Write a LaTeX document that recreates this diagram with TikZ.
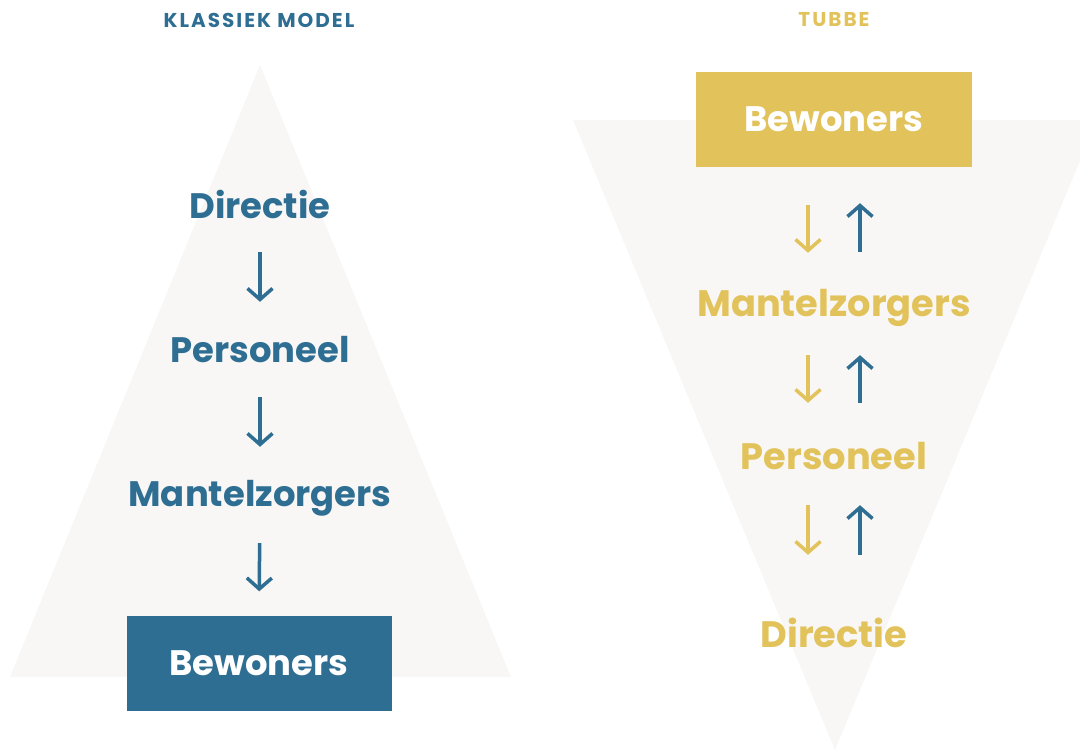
\documentclass[tikz,border=0pt]{standalone}
\usepackage{fontspec}
\setmainfont{Poppins}
\newfontfamily\headfont{Poppins}[LetterSpace=10]
\usepackage{tikz}
\usetikzlibrary{arrows.meta}
\definecolor{klassiekblue}{RGB}{47,110,147}
\definecolor{tubbeyellow}{RGB}{226,194,90}
\definecolor{pyramidgray}{RGB}{248,247,245}

\begin{document}
\begin{tikzpicture}[
    x=1pt, y=-1pt,
    level/.style={anchor=base, inner sep=0pt, text height=25pt, text depth=0pt, font=\fontsize{35.4}{40}\selectfont\bfseries},
    levelR/.style={level, text height=26pt, font=\fontsize{36.8}{42}\selectfont\bfseries},
    topbox/.style={minimum width=#1, inner sep=0pt, text height=25pt, text depth=-5pt, font=\fontsize{35.4}{40}\selectfont\bfseries, text=white},
    header/.style={font=\headfont\fontsize{20}{24}\selectfont\bfseries},
    flow/.style={line width=3.5pt, -{Straight Barb[length=11pt, width=25pt]}}
]
    \clip (0,0) rectangle (1080,751);
    % Pyramids
    \fill[pyramidgray] (260,65) -- (511,677) -- (10,677) -- cycle;
    \fill[pyramidgray] (573,120) -- (1097,120) -- (835,750) -- cycle;

    % Headers
    \node[header, text=klassiekblue] (hklassiek) at (259,20) {KLASSIEK MODEL};
    \node[header, text=tubbeyellow] (htubbe) at (834,20) {TUBBE};

    % Klassiek model
    \node[level, text=klassiekblue] (directie) at (260,219) {Directie};
    \node[level, text=klassiekblue] (personeel) at (260,363) {Personeel};
    \node[level, text=klassiekblue] (mantelzorgers) at (260,507) {Mantelzorgers};
    \node[topbox=265pt, minimum height=95pt, fill=klassiekblue] (bewoners) at (259,663) {Bewoners};

    \draw[flow, klassiekblue, shorten <=33pt, shorten >=36pt] (directie.south) -- (personeel.north);
    \draw[flow, klassiekblue, shorten <=34pt, shorten >=35pt] (personeel.south) -- (mantelzorgers.north);
    \draw[flow, klassiekblue, shorten <=36pt, shorten >=24pt] (mantelzorgers.south) -- (bewoners.north);

    % Tubbe
    \node[topbox=276pt, minimum height=95pt, fill=tubbeyellow] (bewonersT) at (834,119.5) {Bewoners};
    \node[levelR, text=tubbeyellow] (mantelzorgersT) at (834,317) {Mantelzorgers};
    \node[levelR, text=tubbeyellow] (personeelT) at (834,469) {Personeel};
    \node[levelR, text=tubbeyellow] (directieT) at (834,647) {Directie};

    \draw[flow, tubbeyellow, shorten <=38pt, shorten >=38pt, transform canvas={xshift=-26pt}] (bewonersT.south) -- (mantelzorgersT.north);
    \draw[flow, klassiekblue, shorten <=39pt, shorten >=36pt, transform canvas={xshift=26pt}] (mantelzorgersT.north) -- (bewonersT.south);
    \draw[flow, tubbeyellow, shorten <=38pt, shorten >=40pt, transform canvas={xshift=-26pt}] (mantelzorgersT.south) -- (personeelT.north);
    \draw[flow, klassiekblue, shorten <=40pt, shorten >=38pt, transform canvas={xshift=26pt}] (personeelT.north) -- (mantelzorgersT.south);
    \draw[flow, tubbeyellow, shorten <=36pt, shorten >=66pt, transform canvas={xshift=-26pt}] (personeelT.south) -- (directieT.north);
    \draw[flow, klassiekblue, shorten <=66pt, shorten >=36pt, transform canvas={xshift=26pt}] (directieT.north) -- (personeelT.south);
\end{tikzpicture}
\end{document}
